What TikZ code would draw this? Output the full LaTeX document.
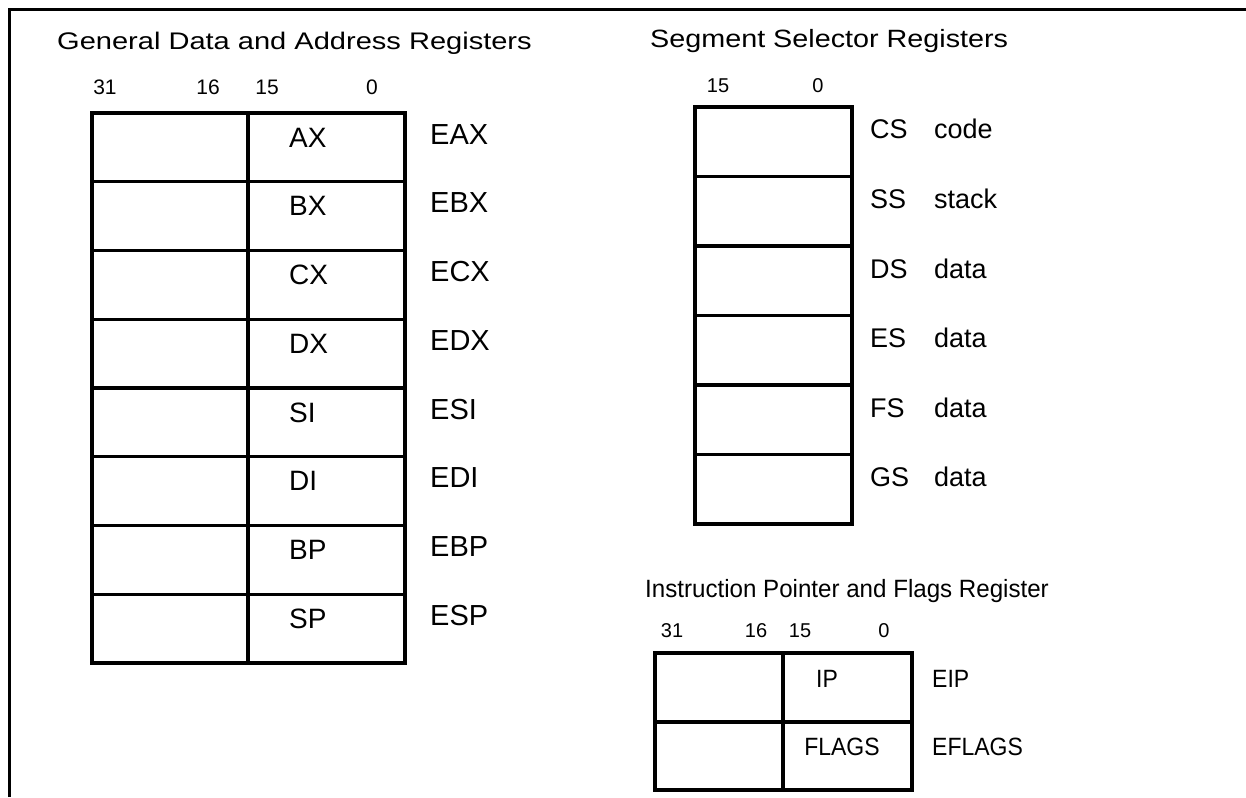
\documentclass[tikz,border=0pt]{standalone}
\usepackage{fontspec}
\setmainfont{Liberation Sans}
\newcommand\fsz[1]{\fontsize{#1}{#1}\selectfont}
\newcommand\sx[2]{\scalebox{#1}[1]{#2}}
\begin{document}
\begin{tikzpicture}[x=1pt,y=-1pt,
  frame/.style={line width=3pt},
  regbox/.style={line width=3.3pt},
  txt/.style={inner sep=0pt, text=black},
  title/.style={txt, anchor=base west},
  bit/.style={txt, anchor=base, font=\fsz{20}},
  lreg/.style={txt, anchor=base west, font=\fsz{28}},
  ereg/.style={txt, anchor=base west, font=\fsz{29}},
  sreg/.style={txt, anchor=base west, font=\fsz{27}},
  ipreg/.style={txt, font=\fsz{25}}]
\useasboundingbox (0,0) rectangle (1246,797);
% outer frame (top and left only)
\draw[frame] (9,797) -- (9,10) -- (1246,10);

% ---------- General Data and Address Registers ----------
\node[title, font=\fsz{24}] (tgen) at (57,50) {\sx{1.21}{General Data and Address Registers}};
\node[bit, font=\fsz{21}] (g31) at (105,95) {31};
\node[bit, font=\fsz{21}] (g16) at (208,95) {16};
\node[bit, font=\fsz{21}] (g15) at (267,95) {15};
\node[bit, font=\fsz{21}] (g0)  at (372,95) {0};
\draw[regbox] (92,113) rectangle (405,663);
\draw[regbox] (248,113) -- (248,663);
\foreach \i in {1,...,7} \draw[regbox] (92,{113+68.75*\i}) -- (405,{113+68.75*\i});
\foreach \r/\e [count=\i from 0] in {AX/EAX,BX/EBX,CX/ECX,DX/EDX,SI/ESI,DI/EDI,BP/EBP,SP/ESP}{
  \node[lreg] (r\r) at (289,{113+68.75*\i+34}) {\r};
  \node[ereg] (e\r) at (430,{113+68.75*\i+31}) {\e};
}

% ---------- Segment Selector Registers ----------
\node[title, font=\fsz{25}] (tseg) at (650,48) {\sx{1.15}{Segment Selector Registers}};
\node[bit] (s15) at (718,93) {15};
\node[bit] (s0)  at (818,93) {0};
\draw[regbox] (695,107) rectangle (852,524);
\foreach \i in {1,...,5} \draw[regbox] (695,{107+69.5*\i}) -- (852,{107+69.5*\i});
\foreach \s/\d [count=\i from 0] in {CS/code,SS/stack,DS/data,ES/data,FS/data,GS/data}{
  \node[sreg] (s\s) at (870,{107+69.5*\i+32}) {\s};
  \node[sreg] (d\s) at (934,{107+69.5*\i+32}) {\d};
}

% ---------- Instruction Pointer and Flags Register ----------
\node[title, font=\fsz{25}] (tip) at (645,597) {\sx{0.965}{Instruction Pointer and Flags Register}};
\node[bit] (i31) at (672,637) {31};
\node[bit] (i16) at (756,637) {16};
\node[bit] (i15) at (800,637) {15};
\node[bit] (i0)  at (884,637) {0};
\draw[regbox] (655,653) rectangle (912,790);
\draw[regbox] (783,653) -- (783,790);
\draw[regbox] (655,722) -- (912,722);
\node[ipreg, anchor=base] (ip) at (827,687) {\sx{0.92}{IP}};
\node[ipreg, anchor=base] (flags) at (842,755) {\sx{0.92}{FLAGS}};
\node[ipreg, anchor=base west] (eip) at (932,687) {\sx{0.92}{EIP}};
\node[ipreg, anchor=base west] (eflags) at (932,755) {\sx{0.92}{EFLAGS}};
\end{tikzpicture}
\end{document}
